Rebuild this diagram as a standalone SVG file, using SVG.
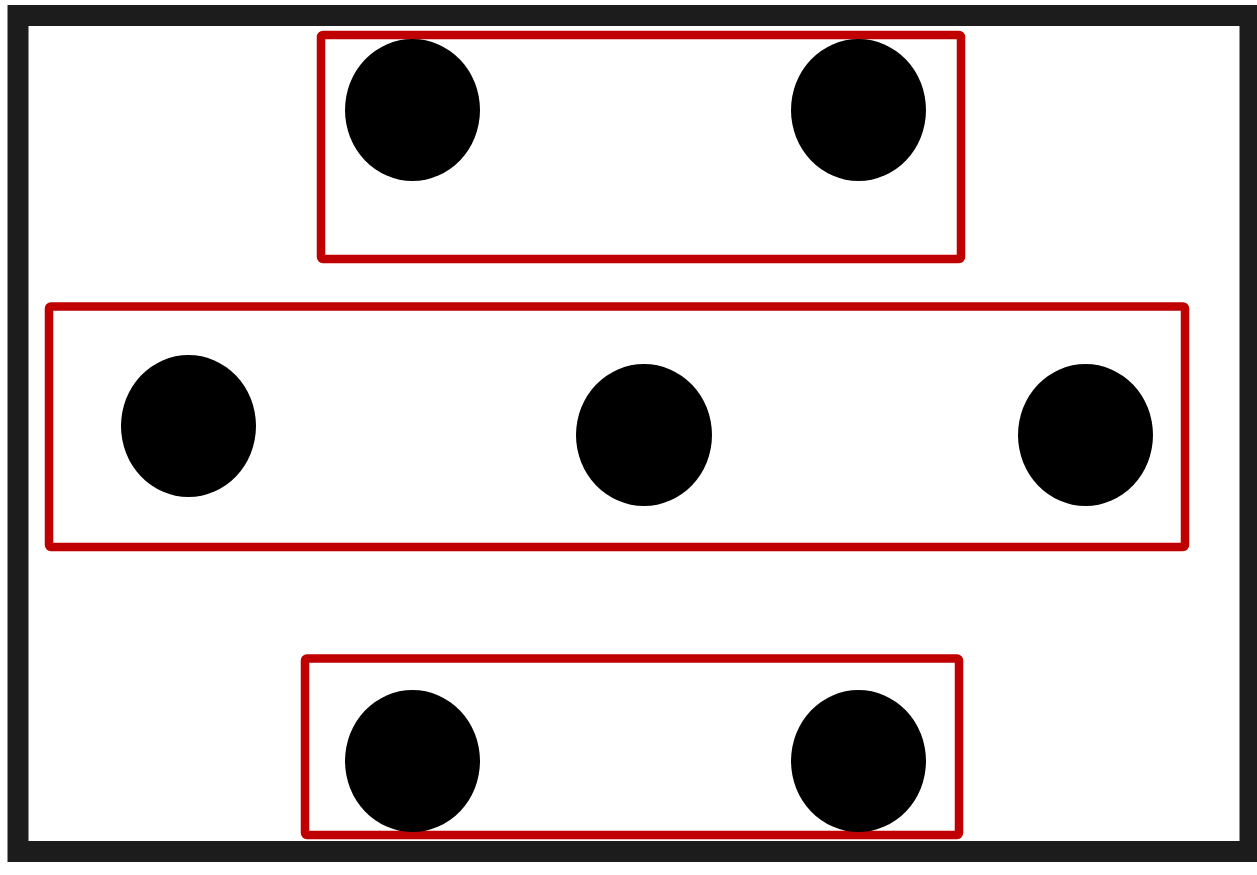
<svg xmlns="http://www.w3.org/2000/svg" width="1257" height="875" viewBox="0 0 1257 875">
<style>
.frame{fill:none;stroke:#1c1c1c;stroke-width:21}
.grp{fill:none;stroke:#c00000;stroke-width:8.5;stroke-linejoin:round}
.dot{fill:#000}
</style>
<rect width="1257" height="875" fill="#fff"/>
<rect class="frame" x="18" y="15.5" width="1232" height="836"/>
<g id="group-top">
<rect class="grp" x="321" y="35" width="640" height="224" rx="2"/>
<g id="dot-1"><ellipse class="dot" cx="412.5" cy="110" rx="67.5" ry="71"/></g>
<g id="dot-2"><ellipse class="dot" cx="858.5" cy="110" rx="67.5" ry="71"/></g>
</g>
<g id="group-middle">
<rect class="grp" x="49" y="306.5" width="1136" height="240.5" rx="2"/>
<g id="dot-3"><ellipse class="dot" cx="188.5" cy="426" rx="67.5" ry="71"/></g>
<g id="dot-4"><ellipse class="dot" cx="644" cy="435" rx="68" ry="71"/></g>
<g id="dot-5"><ellipse class="dot" cx="1085.5" cy="435" rx="67.5" ry="71"/></g>
</g>
<g id="group-bottom">
<rect class="grp" x="305" y="658.5" width="654" height="176.5" rx="2"/>
<g id="dot-6"><ellipse class="dot" cx="412.5" cy="761" rx="67.5" ry="71"/></g>
<g id="dot-7"><ellipse class="dot" cx="858.5" cy="761" rx="67.5" ry="71"/></g>
</g>
<g id="connectors"/>
</svg>
